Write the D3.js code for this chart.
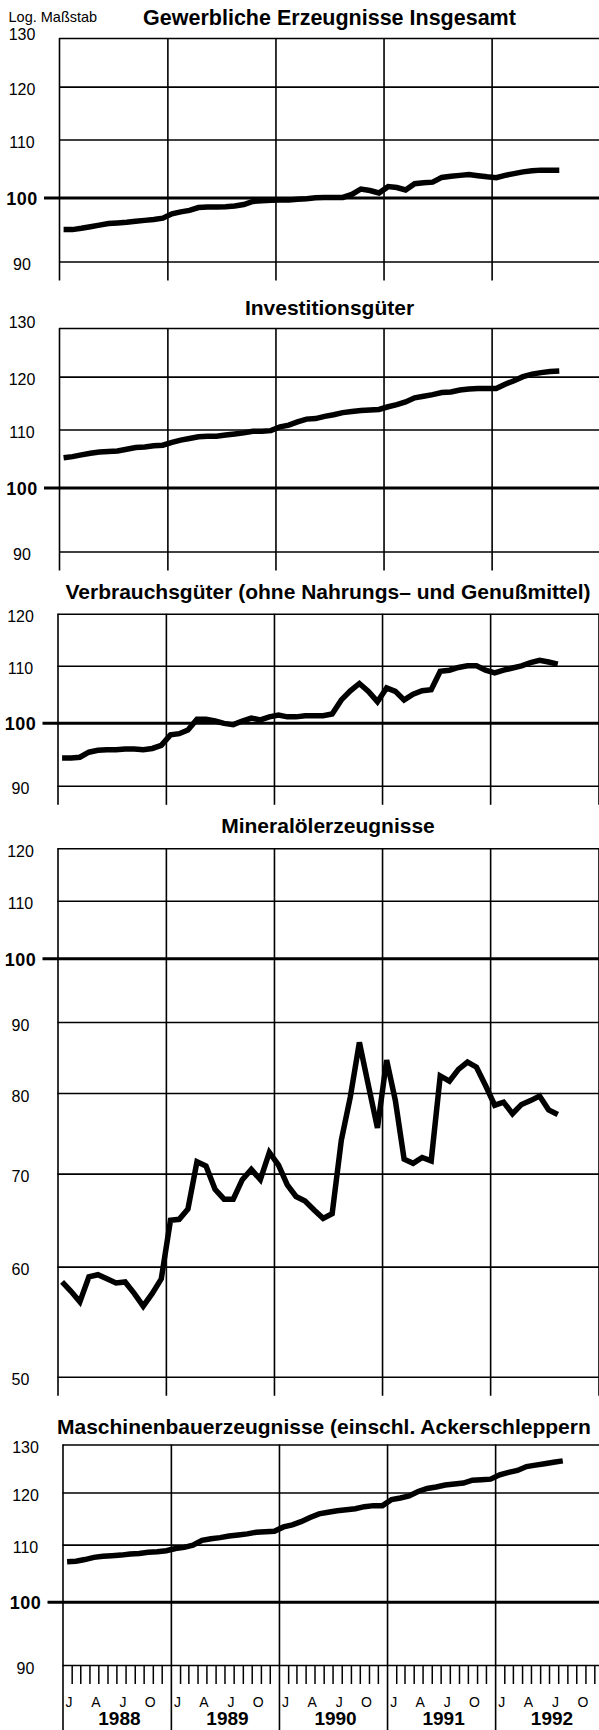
<!DOCTYPE html>
<html>
<head>
<meta charset="utf-8">
<script src="https://cdn.jsdelivr.net/npm/d3@7"></script>
<style>
  body { margin: 0; background: #fff; }
  svg { display: block; font-family: "Liberation Sans", Arial, Helvetica, sans-serif; }
</style>
</head>
<body>
<svg id="chart" width="599" height="1730"></svg>
<script>
// Monthly index values, Jan 1988 - Aug 1992 (log scale, 100 line)
var years = [1988, 1989, 1990, 1991, 1992];
var monthLetters = ["J", "A", "J", "O"];   // Jan, Apr, Jul, Oct
var letterMonths = [0, 3, 6, 9];

var gewerblich = [
  94.85, 94.85, 95.05, 95.3, 95.55, 95.8, 95.9, 96.0, 96.15, 96.3, 96.45, 96.65,
  97.35, 97.65, 97.9, 98.35, 98.45, 98.45, 98.5, 98.6, 98.85, 99.35, 99.45, 99.55,
  99.6, 99.6, 99.7, 99.8, 99.95, 100.0, 100.0, 100.0, 100.5, 101.4, 101.15, 100.75,
  101.8, 101.65, 101.25, 102.3, 102.45, 102.55, 103.35, 103.55, 103.7, 103.85, 103.65, 103.45,
  103.3, 103.7, 104.0, 104.3, 104.5, 104.6, 104.6, 104.6
];
var investition = [
  105.0, 105.2, 105.5, 105.8, 106.0, 106.1, 106.2, 106.5, 106.8, 106.9, 107.1, 107.2,
  107.7, 108.1, 108.4, 108.7, 108.8, 108.8, 109.0, 109.2, 109.4, 109.7, 109.7, 109.8,
  110.5, 110.8, 111.4, 111.9, 112.0, 112.4, 112.7, 113.1, 113.3, 113.5, 113.6, 113.7,
  114.2, 114.6, 115.1, 115.9, 116.2, 116.5, 116.9, 117.0, 117.4, 117.6, 117.7, 117.7,
  117.7, 118.5, 119.2, 120.0, 120.5, 120.8, 121.0, 121.1
];
var verbrauch = [
  94.3, 94.3, 94.4, 95.2, 95.5, 95.6, 95.6, 95.7, 95.7, 95.6, 95.8, 96.3,
  98.0, 98.2, 98.8, 100.6, 100.6, 100.3, 99.9, 99.7, 100.3, 100.8, 100.5, 101.0,
  101.3, 101.0, 101.0, 101.2, 101.2, 101.2, 101.5, 103.9, 105.5, 106.8, 105.4, 103.6,
  106.0, 105.4, 103.9, 104.9, 105.5, 105.7, 109.0, 109.2, 109.7, 110.0, 110.0, 109.2,
  108.7, 109.2, 109.6, 110.0, 110.6, 111.0, 110.7, 110.3
];
var mineraloel = [
  58.5, 57.6, 56.6, 59.0, 59.2, 58.8, 58.4, 58.5, 57.4, 56.2, 57.4, 58.8,
  64.8, 64.9, 66.0, 71.4, 70.9, 68.2, 67.1, 67.1, 69.3, 70.5, 69.3, 72.5,
  71.0, 68.7, 67.4, 66.9, 65.9, 65.0, 65.5, 74.0, 79.5, 87.0, 81.0, 75.5,
  84.5, 79.0, 71.7, 71.2, 71.9, 71.5, 82.3, 81.6, 83.2, 84.2, 83.5, 81.0,
  78.4, 78.8, 77.3, 78.5, 79.0, 79.6, 77.8, 77.2
];
var maschinen = [
  106.9, 107.0, 107.3, 107.7, 107.9, 108.0, 108.1, 108.3, 108.4, 108.6, 108.7, 108.9,
  109.3, 109.5, 109.9, 110.8, 111.1, 111.3, 111.6, 111.8, 112.0, 112.3, 112.4, 112.5,
  113.3, 113.7, 114.3, 115.1, 115.8, 116.1, 116.4, 116.6, 116.8, 117.2, 117.4, 117.4,
  118.6, 118.9, 119.3, 120.2, 120.8, 121.1, 121.5, 121.7, 121.9, 122.5, 122.6, 122.7,
  123.6, 124.1, 124.5, 125.3, 125.6, 125.9, 126.2, 126.5
];

var ticksWide = [90, 100, 110, 120, 130];
var ticksVerbrauch = [90, 100, 110, 120];
var ticksMineral = [50, 60, 70, 80, 90, 100, 110, 120];

// Layout of the five stacked panels
var panels = [
  {title: "Gewerbliche Erzeugnisse Insgesamt", values: gewerblich, ticks: ticksWide,
   left: 59, top: 38, bottom: 261.5, titleY: 25, titleSize: 21.5, topShift: -4},
  {title: "Investitionsgüter", values: investition, ticks: ticksWide,
   left: 59, top: 328, bottom: 551.5, titleY: 315, titleSize: 21, topShift: -6},
  {title: "Verbrauchsgüter (ohne Nahrungs\u2013 und Genußmittel)", values: verbrauch, ticks: ticksVerbrauch,
   left: 57.5, top: 613.8, bottom: 785.8, titleY: 598.5, titleSize: 21},
  {title: "Mineralölerzeugnisse", values: mineraloel, ticks: ticksMineral,
   left: 57.5, top: 848.3, bottom: 1376.7, titleY: 832.5, titleSize: 21},
  {title: "Maschinenbauerzeugnisse (einschl. Ackerschleppern", values: maschinen, ticks: ticksWide,
   left: 62.5, top: 1444.5, bottom: 1665, titleY: 1433.5, titleSize: 21, titleLeft: 57, last: true}
];

var yearWidth = 108.2;
var svg = d3.select("#chart");

var start = new Date(1988, 0, 1);
var months = d3.timeMonth.range(start, new Date(1992, 8, 1));
function mid(d) { return new Date((+d + +d3.timeMonth.offset(d, 1)) / 2); }

var yearStarts = d3.timeYear.range(start, new Date(1994, 0, 1));
var monthBounds = d3.timeMonth.range(start, new Date(1993, 0, 1))
    .filter(function(d) { return d.getMonth() !== 0; });

svg.append("text")
    .attr("x", 8.5)
    .attr("y", 22)
    .attr("font-size", 14.5)
    .text("Log. Maßstab");

panels.forEach(function(p) {

    var x = d3.scaleTime()
        .domain([start, new Date(1993, 0, 1)])
        .range([p.left, p.left + 5 * yearWidth]);
    var y = d3.scaleLog()
        .domain([p.ticks[0], p.ticks[p.ticks.length - 1]])
        .range([p.bottom, p.top]);
    var maxTick = p.ticks[p.ticks.length - 1];

    var g = svg.append("g");

    // Title
    var t = g.append("text")
        .attr("y", p.titleY)
        .attr("font-size", p.titleSize)
        .attr("font-weight", "bold")
        .text(p.title);
    if (p.titleLeft) {
        t.attr("x", p.titleLeft);
    } else {
        t.attr("x", p.left + 5 * yearWidth / 2).attr("text-anchor", "middle");
    }

    // Horizontal grid + labels
    var yAxis = d3.axisLeft(y)
        .tickValues(p.ticks)
        .tickSize(-(600 - p.left))
        .tickPadding(0)
        .tickFormat(d3.format("d"));
    var ga = g.append("g")
        .attr("transform", "translate(" + p.left + ",0)")
        .call(yAxis)
        .attr("font-family", null)
        .attr("font-size", 16);
    ga.select(".domain").remove();
    ga.selectAll(".tick line")
        .attr("stroke", "#000")
        .attr("stroke-width", 1.6);
    ga.selectAll(".tick text")
        .attr("fill", "#000")
        .attr("x", -37)
        .attr("y", function(d) { return (d === maxTick && p.topShift) ? p.topShift : 3; })
        .attr("text-anchor", "middle");

    var hundred = ga.selectAll(".tick").filter(function(d) { return d === 100; });
    hundred.select("line")
        .attr("x1", -15)
        .attr("stroke-width", 3);
    hundred.select("text")
        .attr("font-weight", "bold")
        .attr("font-size", 18)
        .attr("letter-spacing", 0.5)
        .attr("y", 1);

    // Vertical year lines
    var lowEnd = p.last ? 1730 : p.bottom + 19;
    var xAxis = d3.axisBottom(x)
        .tickValues(yearStarts)
        .tickSize(-(lowEnd - p.top))
        .tickFormat("");
    var gx = g.append("g")
        .attr("transform", "translate(0," + lowEnd + ")")
        .call(xAxis);
    gx.select(".domain").remove();
    gx.selectAll(".tick line")
        .attr("stroke", "#000")
        .attr("stroke-width", 1.6);

    // Month ticks and labels under the last panel
    if (p.last) {
        var mAxis = d3.axisBottom(x)
            .tickValues(monthBounds)
            .tickSize(19)
            .tickFormat("");
        var gm = g.append("g")
            .attr("transform", "translate(0," + p.bottom + ")")
            .call(mAxis);
        gm.select(".domain").remove();
        gm.selectAll(".tick line")
            .attr("stroke", "#000")
            .attr("stroke-width", 1.5);

        var letters = [];
        years.forEach(function(yr) {
            letterMonths.forEach(function(m, i) {
                letters.push({date: new Date(yr, m, 1), label: monthLetters[i]});
            });
        });
        g.selectAll(".mlabel")
            .data(letters)
            .enter()
            .append("text")
            .attr("class", "mlabel")
            .attr("x", function(d) { return x(mid(d.date)) + 2; })
            .attr("y", 1707)
            .attr("text-anchor", "middle")
            .attr("font-size", 14)
            .text(function(d) { return d.label; });

        g.selectAll(".ylabel")
            .data(years)
            .enter()
            .append("text")
            .attr("class", "ylabel")
            .attr("x", function(d) { return x(new Date(d, 6, 1)) + 3; })
            .attr("y", 1725)
            .attr("text-anchor", "middle")
            .attr("font-size", 19)
            .attr("font-weight", "bold")
            .text(function(d) { return d; });
    }

    // Data line
    var line = d3.line()
        .x(function(d) { return x(mid(d.date)); })
        .y(function(d) { return y(d.value); });
    var series = months.map(function(m, i) { return {date: m, value: p.values[i]}; });

    g.append("path")
        .datum(series)
        .attr("fill", "none")
        .attr("stroke", "#000")
        .attr("stroke-width", 5.5)
        .attr("d", line);
});
</script>
</body>
</html>
